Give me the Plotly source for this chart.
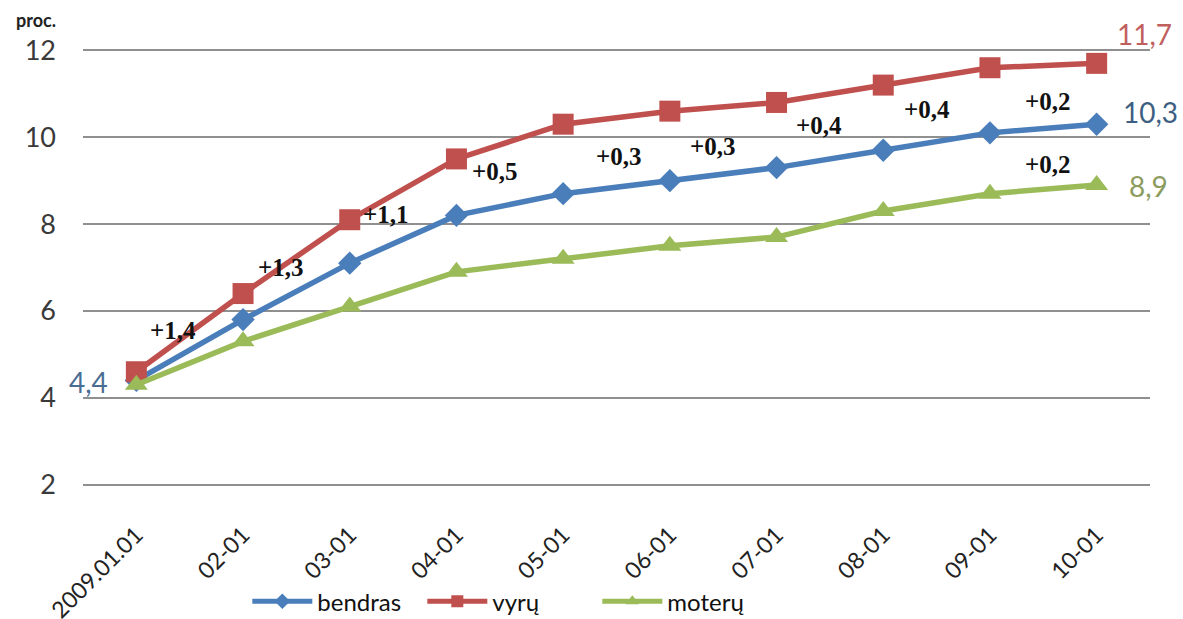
import plotly.graph_objects as go

# Monthly values (percent), Jan 2009 - Oct 2009
months = ["2009.01.01", "02-01", "03-01", "04-01", "05-01",
          "06-01", "07-01", "08-01", "09-01", "10-01"]
bendras = [4.4, 5.8, 7.1, 8.2, 8.7, 9.0, 9.3, 9.7, 10.1, 10.3]
vyru = [4.6, 6.4, 8.1, 9.5, 10.3, 10.6, 10.8, 11.2, 11.6, 11.7]
moteru = [4.3, 5.3, 6.1, 6.9, 7.2, 7.5, 7.7, 8.3, 8.7, 8.9]

y_ticks = [2, 4, 6, 8, 10, 12]

BLUE = "#4a7ebb"
RED = "#c0504d"
GREEN = "#9bbb59"

x_idx = list(range(len(months)))


def fmt(v, sign=False):
    s = f"{v:+.1f}" if sign else f"{v:.1f}"
    return s.replace(".", ",")


fig = go.Figure()
fig.add_trace(go.Scatter(
    x=x_idx, y=bendras, name="bendras", mode="lines+markers",
    line=dict(color=BLUE, width=5.5),
    marker=dict(symbol="diamond", size=18, color=BLUE),
))
fig.add_trace(go.Scatter(
    x=x_idx, y=vyru, name="vyrų", mode="lines+markers",
    line=dict(color=RED, width=5.5),
    marker=dict(symbol="square", size=21, color=RED),
))
fig.add_trace(go.Scatter(
    x=x_idx, y=moteru, name="moterų", mode="lines+markers",
    line=dict(color=GREEN, width=5.5),
    marker=dict(symbol="triangle-up", size=20, color=GREEN),
))

# month-over-month change labels for the overall series
diff_pos = [(0.34, 5.56), (1.36, 6.99), (2.34, 8.21), (3.36, 9.2),
            (4.52, 9.56), (5.40, 9.79), (6.40, 10.28), (7.41, 10.64),
            (8.54, 10.83)]
annotations = []
diff_font = dict(family="Liberation Serif", size=25, color="#111111")
for i, (ax, ay) in enumerate(diff_pos):
    d = round(bendras[i + 1] - bendras[i], 1)
    annotations.append(dict(x=ax, y=ay, text="<b>" + fmt(d, True) + "</b>",
                            showarrow=False, font=diff_font))
# last-month change for men and women
annotations.append(dict(x=8.62, y=12.35,
                        text="<b>" + fmt(round(vyru[-1] - vyru[-2], 1), True) + "</b>",
                        showarrow=False, font=diff_font))
annotations.append(dict(x=8.54, y=9.38,
                        text="<b>" + fmt(round(moteru[-1] - moteru[-2], 1), True) + "</b>",
                        showarrow=False, font=diff_font))

# start / end value labels
end_font = dict(family="Lato", size=28)
annotations += [
    dict(x=0, y=bendras[0], text=fmt(bendras[0]), showarrow=False,
         xshift=-48, yshift=-2, font=dict(end_font, color="#4a6d94")),
    dict(x=9, y=vyru[-1], text=fmt(vyru[-1]), showarrow=False,
         xshift=48, yshift=29, font=dict(end_font, color="#c0605e")),
    dict(x=9, y=bendras[-1], text=fmt(bendras[-1]), showarrow=False,
         xshift=54, yshift=12, font=dict(end_font, color="#3e5f82")),
    dict(x=9, y=moteru[-1], text=fmt(moteru[-1]), showarrow=False,
         xshift=52, yshift=-1, font=dict(end_font, color="#8c9c5e")),
    dict(xref="paper", yref="paper", x=-0.044, y=1.0, yshift=26,
         yanchor="middle", xanchor="center",
         text="<b>proc.</b>", showarrow=False,
         font=dict(family="Lato", size=18, color="#222222")),
]

fig.update_layout(
    width=1183, height=619,
    margin=dict(l=83, r=33, t=46, b=130, autoexpand=False),
    paper_bgcolor="white", plot_bgcolor="white",
    showlegend=True,
    legend=dict(orientation="h", xref="paper", yref="container",
                x=0.154, y=0.028, xanchor="left", yanchor="middle",
                itemsizing="constant", itemwidth=60,
                entrywidth=100, entrywidthmode="pixels",
                font=dict(family="Lato", size=24, color="#111111"),
                bgcolor="rgba(0,0,0,0)"),
    annotations=annotations,
    xaxis=dict(
        range=[-0.5, 9.5], tickmode="array", tickvals=x_idx, ticktext=months,
        tickangle=-45, showgrid=False, zeroline=False, showline=False,
        automargin=False, ticklabelstandoff=27,
        tickfont=dict(family="Lato", size=23, color="#222222"),
    ),
    yaxis=dict(
        range=[1.9, 12.1], tickmode="array", tickvals=y_ticks,
        showgrid=True, gridcolor="#8f8f8f", gridwidth=2, zeroline=False,
        showline=False, ticklabelstandoff=26, automargin=False,
        tickfont=dict(family="Lato", size=27, color="#3a3a3a"),
    ),
)

fig.write_html("out.html")
